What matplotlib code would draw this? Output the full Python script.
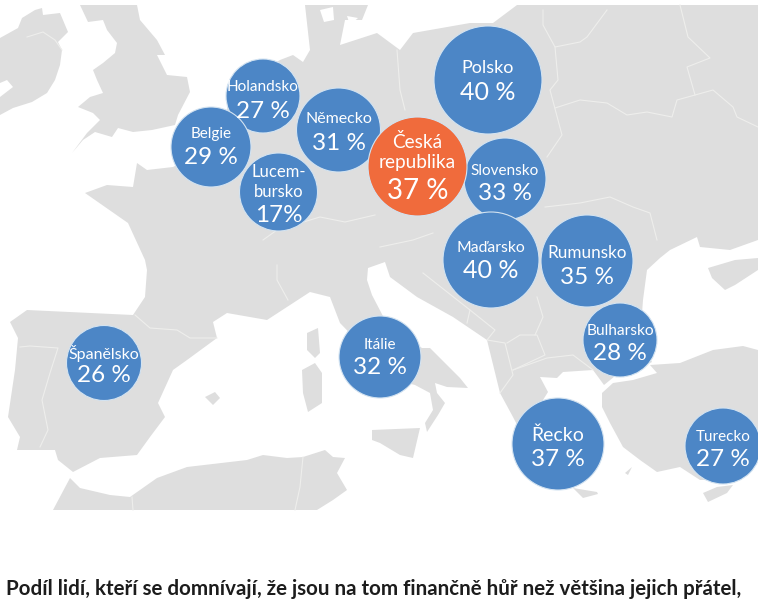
import matplotlib
matplotlib.use('Agg')
import matplotlib.pyplot as plt
from matplotlib.patches import Circle, Polygon

# data
countries = ['Španělsko', 'Itálie', 'Německo', 'Holandsko', 'Belgie', 'Lucem-\nbursko', 'Polsko', 'Slovensko',
             'Česká\nrepublika', 'Maďarsko', 'Rumunsko', 'Bulharsko', 'Řecko', 'Turecko']
values = [26, 32, 31, 27, 29, 17, 40, 33, 37, 40, 35, 28, 37, 27]
highlight = 'Česká\nrepublika'

# bubble position and size in picture pixels
bubble_x = [104, 380, 338.5, 263, 211, 278.5, 488, 505, 417.5, 491, 587, 620, 558, 723]
bubble_y = [363, 357, 130, 96, 147, 192, 80, 179, 166.5, 260, 261, 340, 444, 446]
bubble_r = [37.5, 41, 42, 37, 40, 39, 54, 41, 49.5, 48, 46, 37, 46, 38]
name_y = [353, 345, 119, 87, 134, 182, 68, 171, 152, 248, 253, 331, 435, 437]
value_y = [375, 368, 143, 112, 158, 216, 92, 193, 191, 270, 277, 353, 459, 459]
name_sizes = [11.5, 11, 11.5, 11, 11, 12, 13, 11, 13.7, 11.3, 12.3, 11.2, 14, 11]
value_sizes = [17.5, 17.5, 17.5, 17.5, 17.5, 17.5, 18, 17.5, 20, 18, 17.5, 17.5, 17.5, 17.5]

title = 'Podíl lidí, kteří se domnívají, že jsou na tom finančně hůř než většina jejich přátel,'

# map outlines, pixels
mainland = [(280, 60), (293, 55), (303, 62), (310, 50), (305, 5), (368, 5), (362, 20), (345, 20), (340, 45),
            (377, 33), (400, 50), (413, 33), (470, 23), (493, 23), (517, 5), (758, 5), (758, 240), (730, 250),
            (700, 247), (697, 237), (670, 250), (660, 258), (647, 270), (643, 300), (640, 340), (652, 362),
            (640, 368), (620, 372), (604, 385), (593, 370), (563, 372), (557, 378), (540, 377), (548, 392),
            (543, 400), (560, 420), (590, 440), (560, 470), (530, 450), (513, 417), (500, 393), (487, 340),
            (453, 317), (417, 297), (390, 277), (385, 262), (368, 268), (367, 280), (372, 295), (385, 320),
            (410, 340), (422, 348), (430, 348), (460, 378), (468, 388), (447, 387), (435, 383), (437, 393),
            (445, 403), (438, 415), (427, 432), (425, 423), (433, 410), (430, 393), (415, 385), (395, 380),
            (340, 323), (330, 297), (310, 292), (267, 320), (227, 313), (213, 322), (217, 338), (187, 360),
            (173, 370), (158, 403), (165, 417), (150, 437), (137, 455), (100, 458), (73, 472), (58, 460),
            (55, 450), (17, 450), (20, 437), (8, 417), (15, 370), (18, 338), (10, 322), (27, 310), (133, 315),
            (145, 297), (147, 270), (145, 260), (128, 223), (85, 193), (107, 185), (133, 187), (137, 163),
            (147, 170), (173, 167), (195, 155), (225, 115), (235, 85)]
ireland = [(0, 38), (18, 28), (22, 18), (35, 10), (42, 8), (43, 15), (60, 13), (68, 32), (58, 42), (62, 50),
           (60, 65), (55, 80), (47, 93), (32, 102), (13, 108), (0, 115), (0, 97), (13, 87), (7, 80), (0, 83)]
britain = [(80, 5), (137, 5), (140, 20), (157, 40), (165, 55), (157, 55), (167, 75), (187, 77), (190, 92),
           (178, 115), (175, 125), (152, 130), (133, 132), (118, 128), (112, 137), (95, 132), (83, 140),
           (72, 153), (87, 133), (100, 120), (93, 113), (78, 107), (90, 97), (103, 93), (97, 80), (93, 70),
           (103, 63), (115, 53), (117, 43), (107, 30), (103, 20), (88, 22)]
turkey = [(650, 365), (680, 363), (713, 350), (743, 346), (758, 350), (758, 440), (740, 480), (700, 480),
          (680, 467), (657, 472), (640, 460), (623, 447), (610, 423), (602, 407), (602, 393), (613, 383),
          (633, 380), (657, 373)]
africa = [(53, 510), (70, 478), (80, 488), (110, 495), (130, 497), (157, 478), (187, 467), (247, 460), (263, 455),
          (287, 458), (303, 457), (325, 450), (333, 457), (345, 458), (337, 473), (347, 490), (333, 500), (317, 510)]
crimea = [(708, 268), (735, 260), (758, 258), (758, 270), (735, 285), (725, 290), (712, 278)]
corsica = [(307, 333), (318, 328), (320, 353), (315, 358), (307, 350)]
sardinia = [(302, 370), (315, 363), (322, 373), (322, 403), (308, 412), (303, 393)]
mallorca = [(205, 397), (215, 392), (220, 398), (213, 405)]
sicily = [(372, 430), (420, 428), (413, 458), (400, 455), (380, 443), (372, 440)]
crete = [(573, 488), (597, 492), (598, 494), (583, 498)]
cyprus = [(703, 493), (717, 487), (733, 485), (727, 493), (708, 502)]
rhodes = [(625, 473), (632, 467), (628, 475)]
land = [mainland, ireland, britain, turkey, africa, crimea, corsica, sardinia, mallorca, sicily, crete, cyprus, rhodes]

# white inlets around Denmark
inlets = [[(320, 10), (333, 7), (334, 20), (324, 22)], [(347, 16), (358, 18), (350, 25)]]

borders = [
    [(27, 37), (43, 32), (55, 40), (62, 50)],
    [(20, 347), (30, 346), (58, 348), (50, 373), (42, 400), (48, 430), (40, 447)],
    [(135, 315), (150, 328), (177, 330), (190, 338), (217, 338)],
    [(277, 265), (277, 280), (288, 300)],
    [(263, 240), (277, 230), (320, 217), (345, 222), (375, 215)],
    [(380, 247), (413, 240), (433, 233)],
    [(397, 50), (400, 90), (405, 110)],
    [(543, 10), (543, 25), (555, 47), (580, 42), (587, 37), (607, 10)],
    [(680, 5), (688, 37), (710, 58), (687, 67), (695, 95)],
    [(555, 47), (558, 80), (550, 90), (562, 135), (547, 157)],
    [(555, 108), (580, 100), (607, 103), (627, 115), (647, 112), (672, 117), (677, 100), (695, 95), (713, 90),
     (733, 107), (737, 117), (758, 127)],
    [(545, 207), (580, 203), (610, 197), (633, 207), (650, 213), (657, 240)],
    [(423, 273), (470, 310), (467, 323)],
    [(470, 310), (495, 330), (487, 340), (505, 343), (513, 375), (500, 393)],
    [(507, 343), (520, 335), (537, 335), (545, 355), (513, 370)],
    [(513, 370), (547, 358), (573, 355), (593, 370)],
    [(537, 297), (543, 317), (535, 335)],
    [(303, 457), (300, 487), (295, 510)],
    [(132, 497), (133, 510)],
]

plt.rcParams['font.family'] = ['Lato', 'DejaVu Sans']

fig = plt.figure(figsize=(7.58, 6.08), dpi=100)
ax = fig.add_axes([0, 0, 1, 1])
ax.set_xlim(0, 758)
ax.set_ylim(608, 0)
ax.axis('off')

for shape in land:
    ax.add_patch(Polygon(shape, closed=True, facecolor='#dedede', edgecolor='none', zorder=1))
for shape in inlets:
    ax.add_patch(Polygon(shape, closed=True, facecolor='white', edgecolor='none', zorder=1.5))
for line in borders:
    ax.plot([p[0] for p in line], [p[1] for p in line], color='#eeeeec', lw=0.8, zorder=2)

for i, name in enumerate(countries):
    color = '#f06b3c' if name == highlight else '#4c86c6'
    ax.add_patch(Circle((bubble_x[i], bubble_y[i]), bubble_r[i], facecolor=color, edgecolor='#d3e3f1',
                        lw=0.8, zorder=3 + i))
    ax.text(bubble_x[i], name_y[i], name, color='white', fontsize=name_sizes[i], ha='center', va='center',
            linespacing=1.25, zorder=30)
    if name.startswith('Lucem'):
        value_text = f'{values[i]}%'
    else:
        value_text = f'{values[i]} %'
    ax.text(bubble_x[i], value_y[i], value_text, color='white', fontsize=value_sizes[i], ha='center', va='center',
            zorder=30)

ax.text(6, 589, title, color='#1c1c1c', fontsize=14.8, fontweight='bold', ha='left', va='center')

fig.savefig('out.png', dpi=100)
